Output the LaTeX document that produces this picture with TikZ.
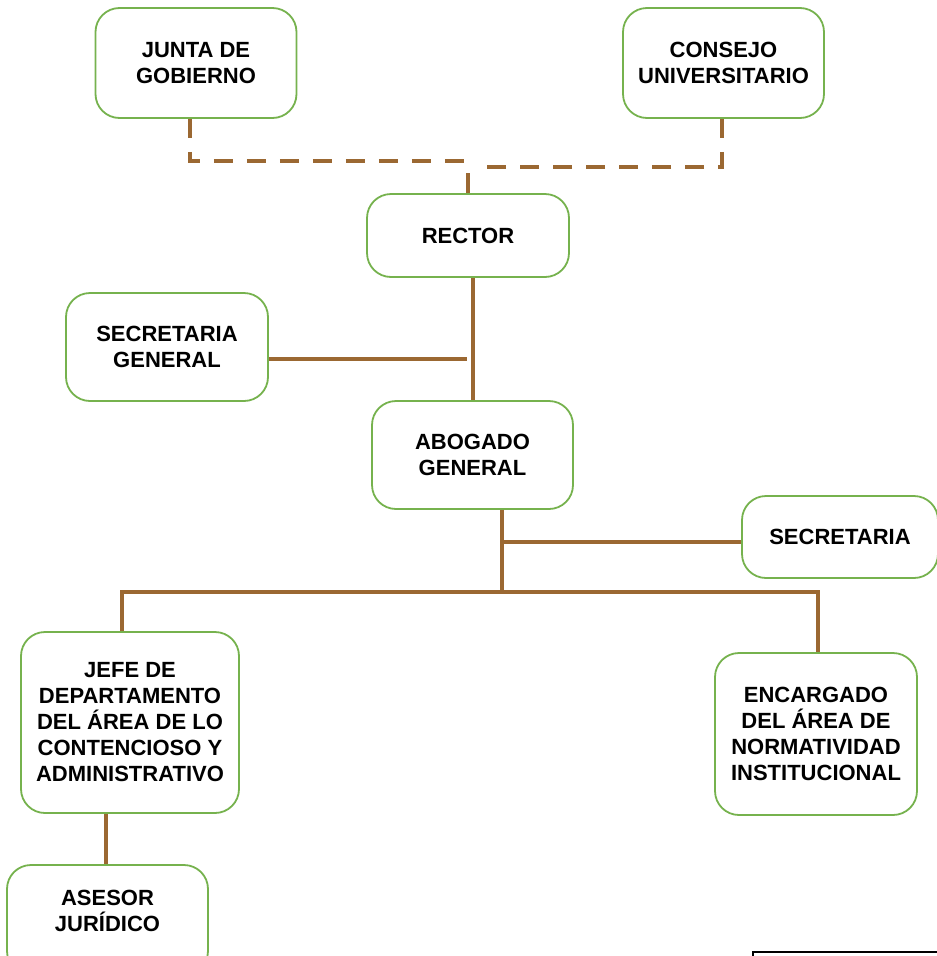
\documentclass[tikz,border=0pt]{standalone}
\usepackage{fontspec}
\setmainfont{Liberation Sans}
\usepackage{tikz}
\definecolor{boxgreen}{RGB}{118,178,78}
\definecolor{linkbrown}{RGB}{155,104,50}

\begin{document}
\begin{tikzpicture}[x=1pt,y=-1pt,
  box/.style={draw=boxgreen,line width=1.8pt,rounded corners=24pt,fill=white,
    align=center,font=\fontsize{22}{26}\selectfont\bfseries,inner sep=0pt},
  link/.style={draw=linkbrown,line width=4pt},
  dashlink/.style={link,dash pattern=on 19pt off 14pt}]
\useasboundingbox (0,0) rectangle (937,956);
\node [box,minimum width=201pt,minimum height=110pt] (junta) at (196,63) {JUNTA DE\\GOBIERNO};
\node [box,minimum width=201pt,minimum height=110pt] (consejo) at (723.5,63) {CONSEJO\\UNIVERSITARIO};
\node [box,minimum width=202pt,minimum height=83pt] (rector) at (468,235.5) {RECTOR};
\node [box,minimum width=202pt,minimum height=108pt] (secgen) at (167,347) {SECRETARIA\\GENERAL};
\node [box,minimum width=201pt,minimum height=108pt] (abogado) at (472.5,455) {ABOGADO\\GENERAL};
\node [box,minimum width=196pt,minimum height=82pt] (secretaria) at (840,537) {SECRETARIA};
\node [box,minimum width=218pt,minimum height=181pt] (jefe) at (130,722.5) {JEFE DE\\DEPARTAMENTO\\DEL ÁREA DE LO\\CONTENCIOSO Y\\ADMINISTRATIVO};
\node [box,minimum width=202pt,minimum height=162pt] (encargado) at (816,734) {ENCARGADO\\DEL ÁREA DE\\NORMATIVIDAD\\INSTITUCIONAL};
\node [box,minimum width=201pt,minimum height=110pt] (asesor) at (107.5,920) {};
\node [align=center,font=\fontsize{22}{26}\selectfont\bfseries] (asesortxt) at (107.5,911) {ASESOR\\JURÍDICO};
\draw [black,line width=1.5pt] (753,952) rectangle (950,975);

\coordinate (dl) at (190,161);
\coordinate (dr) at (722,167);
\coordinate (sg) at (467,359);
\coordinate (ab) at (502,592);
\coordinate (sc) at (502,542);
\coordinate (bl) at (122,592);
\coordinate (br) at (818,592);
\coordinate (ja) at (106,0);

\draw [dashlink] (junta.south -| dl) |- ([xshift=-2pt]rector.north |- dl);
\draw [dashlink] (consejo.south -| dr) |- ([xshift=6pt]rector.north |- dr);
\draw [link] (rector.north) -- ++(0,-20);
\draw [link] (abogado.north) -- (abogado.north |- rector.south);
\draw [link] (sg -| secgen.east) -- (sg);
\draw [link] (ab |- abogado.south) -- (ab);
\draw [link] (sc) -- (sc -| secretaria.west);
\draw [link] (bl |- jefe.north) -- (bl) -- (br) -- (br |- encargado.north);
\draw [link] (jefe.south -| ja) -- (asesor.north -| ja);
\end{tikzpicture}
\end{document}
